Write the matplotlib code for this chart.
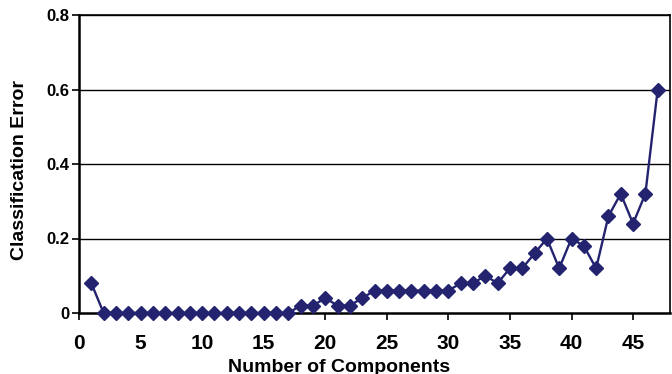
import matplotlib
matplotlib.use("Agg")
import matplotlib.pyplot as plt

# Classification error versus number of retained components
components = list(range(1, 48))
error = [0.08, 0.0, 0.0, 0.0, 0.0, 0.0, 0.0, 0.0, 0.0, 0.0,
         0.0, 0.0, 0.0, 0.0, 0.0, 0.0, 0.0, 0.02, 0.02, 0.04,
         0.02, 0.02, 0.04, 0.06, 0.06, 0.06, 0.06, 0.06, 0.06, 0.06,
         0.08, 0.08, 0.10, 0.08, 0.12, 0.12, 0.16, 0.20, 0.12, 0.20,
         0.18, 0.12, 0.26, 0.32, 0.24, 0.32, 0.60]
x_ticks = [0, 5, 10, 15, 20, 25, 30, 35, 40, 45]
y_ticks = [0, 0.2, 0.4, 0.6, 0.8]
y_tick_labels = ["0", "0.2", "0.4", "0.6", "0.8"]

plt.rcParams['font.family'] = ['Liberation Sans', 'DejaVu Sans']
plt.rcParams['font.weight'] = 'bold'

fig = plt.figure(figsize=(6.72, 3.74), dpi=100)
ax = fig.add_axes([79 / 672, 1 - 313 / 374, 591 / 672, 298 / 374])

ax.plot(components, error, color='#23236f', lw=1.7, marker='D',
        markersize=7, markerfacecolor='#23236f', markeredgecolor='#23236f',
        zorder=3, clip_on=False)

ax.set_xlim(0, 48)
ax.set_ylim(0, 0.8)
ax.set_xticks(x_ticks)
ax.set_yticks(y_ticks)
ax.set_yticklabels(y_tick_labels)

for y in y_ticks[1:]:
    ax.axhline(y, color='black', lw=1.0, zorder=1)

for side in ['left', 'bottom']:
    ax.spines[side].set_linewidth(1.8)
for side in ['top', 'right']:
    ax.spines[side].set_linewidth(1.2)

ax.tick_params(axis='x', direction='out', length=5, width=1.2, pad=10,
               labelsize=15)
ax.tick_params(axis='y', direction='out', length=5, width=1.2, pad=2,
               labelsize=12)
for lbl in ax.get_xticklabels() + ax.get_yticklabels():
    lbl.set_fontweight('bold')

ax.set_xlabel("Number of Components", fontsize=14, fontweight='bold')
ax.set_ylabel("Classification Error", fontsize=14, fontweight='bold')
ax.xaxis.set_label_coords(0.44, -0.155)
ax.yaxis.set_label_coords(-0.0865, 0.48)

fig.savefig("out.png", dpi=100)
